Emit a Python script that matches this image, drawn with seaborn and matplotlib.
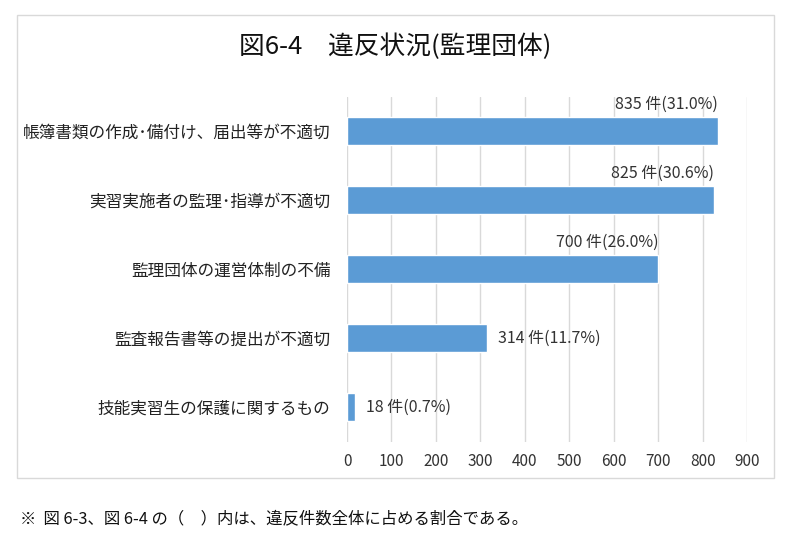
import matplotlib
matplotlib.use("Agg")
import matplotlib.pyplot as plt
import seaborn as sns
import pandas as pd
from matplotlib.patches import Rectangle

# Datos
categorias = [
    "帳簿書類の作成･備付け、届出等が不適切",
    "実習実施者の監理･指導が不適切",
    "監理団体の運営体制の不備",
    "監査報告書等の提出が不適切",
    "技能実習生の保護に関するもの",
]
casos = [835, 825, 700, 314, 18]
porcentajes = ["31.0%", "30.6%", "26.0%", "11.7%", "0.7%"]
ticks_x = [0, 100, 200, 300, 400, 500, 600, 700, 800, 900]

df = pd.DataFrame({"categoria": categorias, "casos": casos, "pct": porcentajes})

sns.set_style("white")
plt.rcParams["font.family"] = ["Noto Sans CJK JP", "DejaVu Sans"]

fig = plt.figure(figsize=(7.91, 5.44), dpi=100)
ax = fig.add_axes([0.4387, 0.1884, 0.5057, 0.6342])

sns.barplot(data=df, x="casos", y="categoria", orient="h", color="#5B9BD5",
            saturation=1, width=0.4, ax=ax, zorder=3)

ax.set_xlim(0, 900)
ax.set_ylim(4.5, -0.5)
ax.set_xticks(ticks_x)
ax.set_xticklabels([str(t) for t in ticks_x], fontsize=11, color="#333333")
ax.tick_params(axis="y", labelsize=12, colors="#222222", length=0, pad=12)
ax.tick_params(axis="x", length=0, pad=8)
ax.set_xlabel("")
ax.set_ylabel("")
ax.grid(axis="x", color="#d9d9d9", linewidth=1, zorder=0)
for s in ax.spines.values():
    s.set_visible(False)

# Etiquetas
for i, (v, p) in enumerate(zip(casos, porcentajes)):
    texto = f"{v} 件({p})"
    if v >= 500:
        ax.text(v, i - 0.27, texto, ha="right", va="bottom", fontsize=11.5, color="#333333")
    else:
        ax.text(v + 25, i, texto, ha="left", va="center", fontsize=11.5, color="#333333")

# Marco
fig.patches.append(Rectangle((17 / 791, 1 - 478 / 544), (774 - 17) / 791, (478 - 15) / 544,
                             transform=fig.transFigure, fill=False,
                             edgecolor="#d9d9d9", linewidth=1))

fig.text(395 / 791, 1 - 47 / 544, "図6-4　違反状況(監理団体)", ha="center", va="center",
         fontsize=18.5, color="#111111")
fig.text(20 / 791, 1 - 519 / 544, "※  図 6-3、図 6-4 の（　）内は、違反件数全体に占める割合である。",
         ha="left", va="center", fontsize=11.8, color="#111111")

fig.savefig("out.png", dpi=100)
